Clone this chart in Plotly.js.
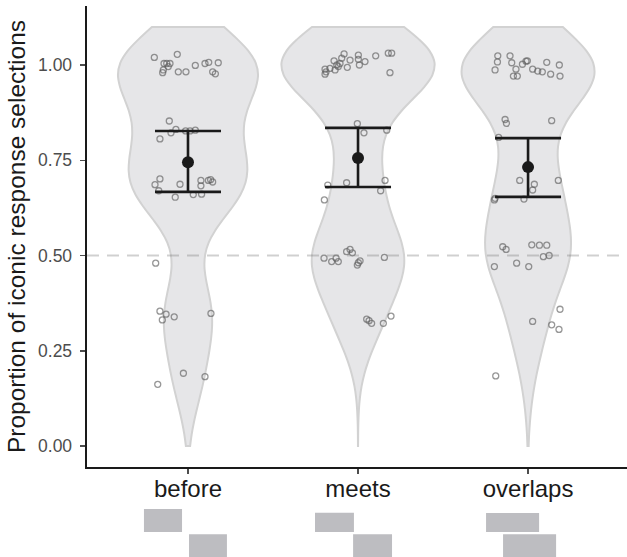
<!DOCTYPE html>
<html>
<head>
<meta charset="utf-8">
<script src="https://cdn.plot.ly/plotly-3.0.1.min.js"></script>
<style>html,body{margin:0;padding:0;background:#fff}#chart{width:627px;height:557px}</style>
</head>
<body>
<div id="chart"></div>
<script>
// Categories and tick labels
const categories = ["before", "meets", "overlaps"];
const tickPositions = [0, 1, 2];

// Jittered observations per category: y value and horizontal jitter offset (category units)
const beforeY = [1.020,1.028,1.004,1.004,1.004,0.996,0.987,0.980,0.982,0.982,0.999,1.004,1.007,1.006,0.982,0.977,
  0.853,0.822,0.831,0.827,0.827,0.829,0.806,0.701,0.686,0.670,0.687,0.653,0.660,0.661,0.697,0.683,0.697,0.699,0.693,
  0.480,0.354,0.346,0.331,0.339,0.348,0.191,0.182,0.162];
const beforeDx = [-0.198,-0.063,-0.141,-0.125,-0.106,-0.116,-0.145,-0.149,-0.057,-0.012,0.043,0.100,0.122,0.178,0.145,0.161,
  -0.110,-0.100,-0.071,-0.014,0.012,0.043,-0.165,-0.165,-0.194,-0.172,-0.047,-0.075,0.031,0.080,0.076,0.076,0.120,0.133,0.145,
  -0.190,-0.165,-0.129,-0.151,-0.081,0.135,-0.027,0.100,-0.178];

const meetsY = [0.989,0.976,0.982,0.991,1.011,0.987,1.000,0.996,1.004,1.018,1.029,0.994,1.013,1.026,1.015,1.000,1.009,1.024,1.031,1.031,0.980,
  0.846,0.822,0.829,0.685,0.691,0.697,0.670,0.646,
  0.493,0.484,0.493,0.484,0.510,0.516,0.507,0.475,0.481,0.486,0.495,0.333,0.329,0.322,0.322,0.341];
const meetsDx = [-0.194,-0.194,-0.188,-0.165,-0.141,-0.135,-0.125,-0.116,-0.106,-0.096,-0.082,-0.063,-0.047,0.002,0.002,0.008,0.041,0.104,0.178,0.198,0.188,
  -0.004,0.035,0.169,-0.178,-0.067,0.159,0.133,-0.198,
  -0.200,-0.155,-0.129,-0.116,-0.067,-0.047,-0.033,-0.004,0.002,0.012,0.155,0.051,0.065,0.080,0.149,0.194];

const overlapsY = [1.024,1.008,0.987,1.024,1.006,0.989,0.971,0.971,1.002,1.010,1.011,0.989,0.984,0.982,1.007,0.976,1.000,0.971,
  0.857,0.847,0.854,0.810,0.697,0.687,0.672,0.697,0.646,0.650,0.648,
  0.523,0.516,0.528,0.527,0.527,0.497,0.500,0.471,0.480,0.471,0.359,0.327,0.318,0.306,0.184];
const overlapsDx = [-0.178,-0.180,-0.194,-0.106,-0.096,-0.071,-0.086,-0.063,-0.033,-0.012,-0.004,0.027,0.057,0.084,0.110,0.133,0.184,0.188,
  -0.135,-0.127,0.139,-0.173,-0.049,0.037,0.027,0.178,-0.198,-0.194,-0.024,
  -0.149,-0.129,0.022,0.067,0.110,0.090,0.124,-0.198,-0.067,0.004,0.188,0.027,0.139,0.182,-0.190];

// Means and confidence interval bounds
const meanValues = [0.745, 0.756, 0.732];
const upperValues = [0.827, 0.835, 0.808];
const lowerValues = [0.667, 0.680, 0.654];

// Reference line
const chanceLevel = 0.5;

const groupsY = [beforeY, meetsY, overlapsY];
const groupsDx = [beforeDx, meetsDx, overlapsDx];
const violinWidths = [0.824, 0.9, 0.78];

const traces = [];
groupsY.forEach((ys, i) => {
  traces.push({
    type: "violin",
    x0: tickPositions[i],
    y: ys,
    width: violinWidths[i],
    scalegroup: "g" + i,
    scalemode: "width",
    spanmode: "manual",
    span: [0, 1.1],
    bandwidth: 0.095,
    points: false,
    box: {visible: false},
    meanline: {visible: false},
    fillcolor: "#e6e6e8",
    line: {color: "#d2d2d2", width: 2},
    hoverinfo: "skip",
    showlegend: false
  });
});
groupsY.forEach((ys, i) => {
  traces.push({
    type: "scatter",
    mode: "markers",
    x: groupsDx[i].map(d => tickPositions[i] + d),
    y: ys,
    marker: {symbol: "circle-open", size: 6, color: "rgba(95,95,95,0.65)", line: {width: 1.3}},
    hoverinfo: "y",
    showlegend: false
  });
});
traces.push({
  type: "scatter",
  mode: "markers",
  x: tickPositions,
  y: meanValues,
  marker: {size: 12, color: "#1a1a1a"},
  error_y: {
    type: "data",
    symmetric: false,
    array: upperValues.map((u, i) => u - meanValues[i]),
    arrayminus: meanValues.map((m, i) => m - lowerValues[i]),
    color: "#1a1a1a",
    thickness: 2.6,
    width: 33
  },
  showlegend: false
});

const rectColor = "#bdbdc1";
const rects = [
  [-0.259, -0.035, -0.091, -0.141], [0.006, 0.229, -0.146, -0.2],
  [-0.253, -0.024, -0.099, -0.141], [-0.029, 0.2, -0.146, -0.2],
  [-0.247, 0.065, -0.1, -0.141], [-0.147, 0.165, -0.146, -0.2]
];
const shapes = [{
  type: "line", xref: "paper", yref: "y", x0: 0, x1: 1, y0: chanceLevel, y1: chanceLevel,
  line: {color: "rgba(120,120,120,0.35)", width: 2, dash: "12px,8px"}, layer: "above"
}];
rects.forEach((r, k) => {
  const c = Math.floor(k / 2);
  shapes.push({
    type: "rect", xref: "x", yref: "paper",
    x0: tickPositions[c] + r[0], x1: tickPositions[c] + r[1], y0: r[2], y1: r[3],
    fillcolor: rectColor, line: {width: 0}
  });
});

const layout = {
  width: 627, height: 557,
  margin: {l: 87, r: 0, t: 6, b: 90},
  paper_bgcolor: "#ffffff", plot_bgcolor: "#ffffff",
  font: {family: "Liberation Sans, Arial, sans-serif"},
  violinmode: "overlay",
  showlegend: false,
  xaxis: {
    range: [-0.594, 2.582], tickvals: tickPositions, ticktext: categories,
    showgrid: false, zeroline: false, showline: true, linecolor: "#1a1a1a", linewidth: 2.4,
    ticks: "outside", ticklen: 5, tickwidth: 1.5, tickcolor: "#4d4d4d",
    tickfont: {size: 24, color: "#1a1a1a"}, ticklabelstandoff: -6, automargin: false
  },
  yaxis: {
    range: [-0.0551, 1.1549], tickvals: [0, 0.25, 0.5, 0.75, 1.0],
    ticktext: ["0.00", "0.25", "0.50", "0.75", "1.00"],
    showgrid: false, zeroline: false, showline: true, linecolor: "#1a1a1a", linewidth: 2.4,
    ticks: "outside", ticklen: 5, tickwidth: 1.5, tickcolor: "#4d4d4d",
    tickfont: {size: 17.5, color: "#4d4d4d"}, ticklabelstandoff: 4,
    title: {text: "Proportion of iconic response selections", font: {size: 24.5, color: "#1a1a1a"}, standoff: 6},
    automargin: false
  },
  shapes: shapes
};

Plotly.newPlot("chart", traces, layout, {displayModeBar: false, staticPlot: true});
</script>
</body>
</html>
